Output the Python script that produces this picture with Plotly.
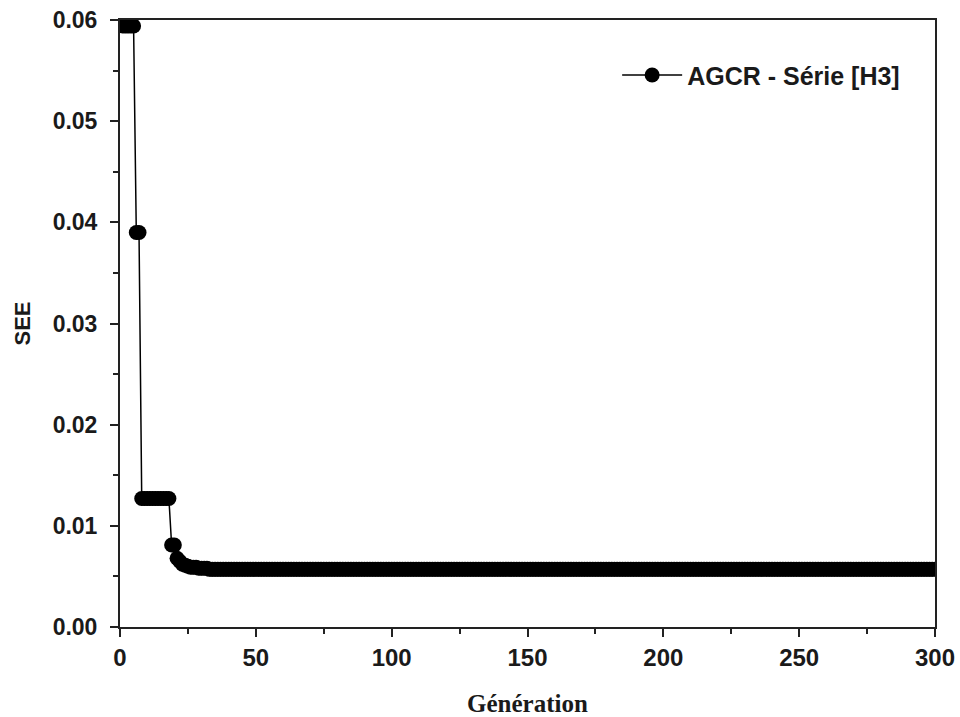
import plotly.graph_objects as go

# Step levels of SEE, with how many generations each lasts
see_levels = [0.0594, 0.0390, 0.0127, 0.0081, 0.0068, 0.0065, 0.0062, 0.0061, 0.0060, 0.0059, 0.0058, 0.0057]
see_counts = [5, 2, 11, 2, 1, 1, 1, 1, 1, 3, 4, 268]

generations = list(range(1, sum(see_counts) + 1))
see = []
for lvl, n in zip(see_levels, see_counts):
    see.extend([lvl] * n)

x_ticks = [0, 50, 100, 150, 200, 250, 300]
y_ticks = [0.00, 0.01, 0.02, 0.03, 0.04, 0.05, 0.06]

fig = go.Figure()
fig.add_trace(go.Scatter(
    x=generations, y=see, mode="lines+markers",
    name="AGCR - Série [H3]",
    line=dict(color="black", width=1.5),
    marker=dict(color="black", size=15, symbol="circle"),
))

fig.update_layout(
    width=960, height=717,
    margin=dict(l=120, r=25, t=20, b=90),
    paper_bgcolor="white", plot_bgcolor="white",
    showlegend=True,
    legend=dict(x=0.61, y=0.909, xanchor="left", yanchor="middle",
                font=dict(family="Liberation Sans, Arial", size=25, color="#1a1a1a", weight="bold"),
                bgcolor="rgba(0,0,0,0)", itemwidth=60),
    xaxis=dict(
        range=[0, 300], tickvals=x_ticks, ticks="outside", ticklen=8, tickwidth=2,
        tickcolor="#222", showline=True, linewidth=2, linecolor="#222", mirror=True,
        showgrid=False, zeroline=False, automargin=False,
        tickfont=dict(family="Liberation Sans Narrow, Arial Narrow, Liberation Sans, Arial", size=24, color="#1a1a1a", weight="bold"),
        minor=dict(dtick=25, ticks="outside", ticklen=5, tickwidth=2, tickcolor="#222", showgrid=False),
        title=dict(text="Génération", font=dict(family="Liberation Serif, Times New Roman", size=25, color="#1a1a1a", weight="bold"), standoff=26),
    ),
    yaxis=dict(
        range=[0, 0.06], tickvals=y_ticks, tickformat=".2f", ticks="outside", ticklen=8, tickwidth=2,
        tickcolor="#222", showline=True, linewidth=2, linecolor="#222", mirror=True,
        showgrid=False, zeroline=False, automargin=False, ticklabelstandoff=8,
        tickfont=dict(family="Liberation Sans, Arial", size=23, color="#1a1a1a", weight="bold"),
        minor=dict(dtick=0.005, ticks="outside", ticklen=5, tickwidth=2, tickcolor="#222", showgrid=False),
        title=dict(text="SEE", font=dict(family="Liberation Sans, Arial", size=22, color="#1a1a1a", weight="bold"), standoff=16),
    ),
)

fig.write_html("out.html")
